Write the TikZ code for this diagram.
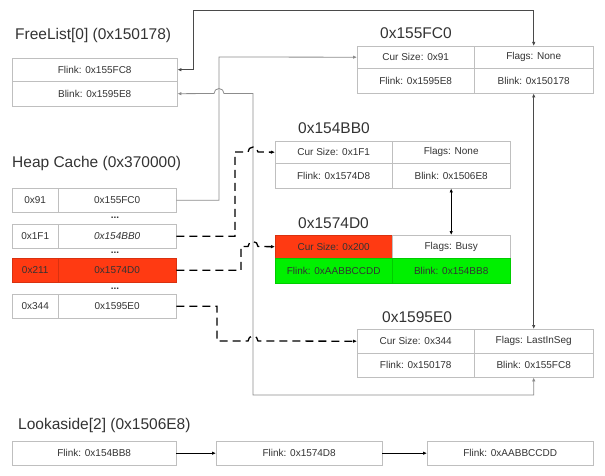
\documentclass[tikz,border=0pt]{standalone}
\usepackage{fontspec}
\setmainfont{Liberation Sans}
\usetikzlibrary{arrows.meta}
\definecolor{hpline}{HTML}{BFBFBF}
\definecolor{hptext}{HTML}{333333}
\definecolor{hpgray}{HTML}{8C8C8C}
\definecolor{hpdark}{HTML}{4A4A4A}
\definecolor{hpred}{HTML}{FF3A12}
\definecolor{hpgreen}{HTML}{00F000}

\begin{document}
\begin{tikzpicture}[x=1pt, y=-1pt,
    cell/.style={draw=hpline, fill=white, inner sep=0pt, anchor=north west,
                 minimum height=24pt, font=\fontsize{10}{12}\selectfont, text=hptext},
    redcell/.style={cell, fill=hpred, draw=hpred!85!black},
    greencell/.style={cell, fill=hpgreen, draw=hpgreen!85!black},
    title/.style={anchor=west, inner sep=0pt, font=\fontsize{15.5}{18}\selectfont, text=hptext},
    dots/.style={inner sep=0pt, font=\fontsize{10}{10}\selectfont\bfseries, text=hptext},
    link/.style={-{Latex[length=4pt,width=3.5pt]}, draw=hpgray, line width=0.8pt},
    dlink/.style={link, draw=hpdark},
    hlink/.style={link, draw=black, line width=1.3pt, dash pattern=on 8pt off 5pt}
]
  \useasboundingbox (0,0) rectangle (605,476);

  % FreeList head
  \node[title] (fltitle) at (15,35) {FreeList[0] (0x150178)};
  \node[cell, minimum width=165pt, minimum height=23pt] (flflink) at (12,58) {Flink: 0x155FC8};
  \node[cell, minimum width=165pt, minimum height=25pt] (flblink) at (12,81) {Blink: 0x1595E8};

  % Heap cache
  \node[title] (hctitle) at (12,163) {Heap Cache (0x370000)};
  \node[cell, minimum width=46pt] (hc1a) at (12,188) {0x91};
  \node[cell, minimum width=118pt] (hc1b) at (58,188) {0x155FC0};
  \node[dots] at (115,218) {...};
  \node[cell, minimum width=46pt] (hc2a) at (12,224) {0x1F1};
  \node[cell, minimum width=118pt] (hc2b) at (58,224) {\itshape 0x154BB0};
  \node[dots] at (115,253) {...};
  \node[redcell, minimum width=46pt] (hc3a) at (12,258) {0x211};
  \node[redcell, minimum width=118pt] (hc3b) at (58,258) {0x1574D0};
  \node[dots] at (115,289) {...};
  \node[cell, minimum width=46pt] (hc4a) at (12,294) {0x344};
  \node[cell, minimum width=118pt] (hc4b) at (58,294) {0x1595E0};

  % Chunk 0x155FC0
  \node[title] at (380,33) {0x155FC0};
  \node[cell, minimum width=117pt, minimum height=22pt] (c1size) at (357,46) {Cur Size: 0x91};
  \node[cell, minimum width=119pt, minimum height=22pt] (c1flags) at (474,46) {Flags: None};
  \node[cell, minimum width=117pt, minimum height=25pt] (c1flink) at (357,68) {Flink: 0x1595E8};
  \node[cell, minimum width=119pt, minimum height=25pt] (c1blink) at (474,68) {Blink: 0x150178};

  % Chunk 0x154BB0
  \node[title] at (298,128) {0x154BB0};
  \node[cell, minimum width=117pt, minimum height=22pt] (c2size) at (275,141) {Cur Size: 0x1F1};
  \node[cell, minimum width=118pt, minimum height=22pt] (c2flags) at (392,141) {Flags: None};
  \node[cell, minimum width=117pt, minimum height=25pt] (c2flink) at (275,163) {Flink: 0x1574D8};
  \node[cell, minimum width=118pt, minimum height=25pt] (c2blink) at (392,163) {Blink: 0x1506E8};

  % Chunk 0x1574D0 (busy)
  \node[title] at (298,223) {0x1574D0};
  \node[redcell, minimum width=117pt, minimum height=23pt] (c3size) at (275,235) {Cur Size: 0x200};
  \node[cell, minimum width=118pt, minimum height=23pt] (c3flags) at (392,235) {Flags: Busy};
  \node[greencell, minimum width=117pt, minimum height=25pt] (c3flink) at (275,258) {Flink: 0xAABBCCDD};
  \node[greencell, minimum width=118pt, minimum height=25pt] (c3blink) at (392,258) {Blink: 0x154BB8};

  % Chunk 0x1595E0
  \node[title] at (382,317) {0x1595E0};
  \node[cell, minimum width=117pt] (c4size) at (357,329) {Cur Size: 0x344};
  \node[cell, minimum width=119pt] (c4flags) at (474,329) {Flags: LastInSeg};
  \node[cell, minimum width=117pt] (c4flink) at (357,353) {Flink: 0x150178};
  \node[cell, minimum width=119pt] (c4blink) at (474,353) {Blink: 0x155FC8};

  % Lookaside list
  \node[title] (latitle) at (18,425) {Lookaside[2] (0x1506E8)};
  \node[cell, minimum width=164pt] (la1) at (12,441) {Flink: 0x154BB8};
  \node[cell, minimum width=166pt] (la2) at (216,441) {Flink: 0x1574D8};
  \node[cell, minimum width=166pt] (la3) at (427,441) {Flink: 0xAABBCCDD};

  % FreeList links
  \draw[dlink, {Latex[length=4pt,width=3.5pt]}-{Latex[length=4pt,width=3.5pt]}]
    (flflink.east) -| (193,10) -| (c1flags.north);
  \draw[link, {Latex[length=4pt,width=3.5pt]}-{Latex[length=4pt,width=3.5pt]}]
    (c4blink.south) |- (253,395) |- (224,93.5)
    arc[start angle=0, end angle=-180, radius=5] -- (flblink.east);
  \draw[dlink, {Latex[length=4pt,width=3.5pt]}-{Latex[length=4pt,width=3.5pt]}]
    (c1blink.south) -- (c4flags.north);
  \draw[dlink, draw=black, {Latex[length=4pt,width=3.5pt]}-{Latex[length=4pt,width=3.5pt]}]
    (c2blink.south) -- (c3flags.north);

  % Heap cache links
  \draw[link] (hc1b.east) -| (219,57) -- (c1size.west);
  \draw[hlink] (hc2b.east) -| (235,152) -- (248,152)
    arc[start angle=180, end angle=360, radius=5] -- (c2size.west);
  \draw[hlink] (hc3b.east) -| (241,246.5) -- (248,246.5)
    arc[start angle=180, end angle=360, radius=5] -- (c3size.west);
  \draw[hlink] (hc4b.east) -| (217,341) -- (248,341)
    arc[start angle=180, end angle=360, radius=5] -- (c4size.west);

  % Lookaside links
  \draw[dlink, draw=black] (la1) -- (la2);
  \draw[dlink, draw=black] (la2) -- (la3);
\end{tikzpicture}
\end{document}
